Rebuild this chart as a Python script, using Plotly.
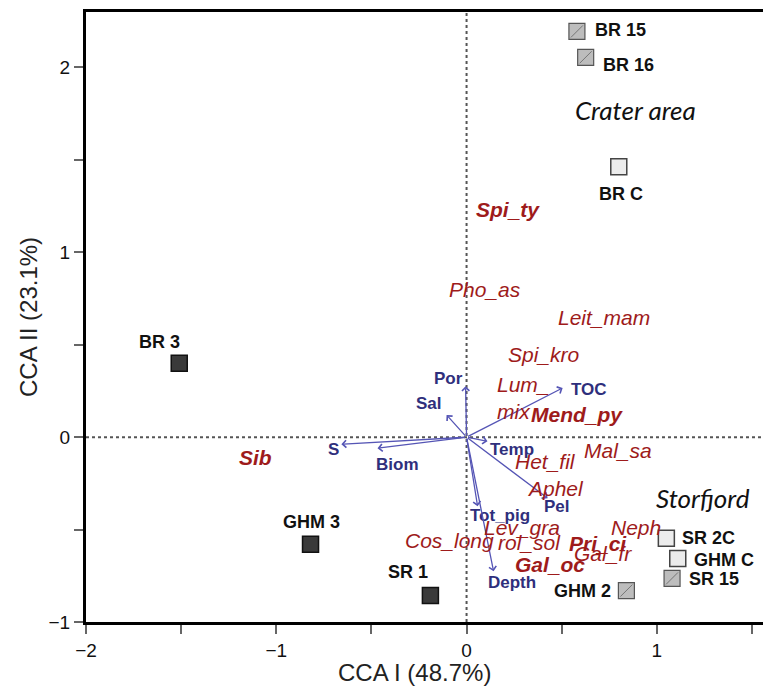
import plotly.graph_objects as go

# ---------------- data ----------------
site_names = ["BR 15", "BR 16", "BR C", "BR 3", "GHM 3", "SR 1", "GHM 2", "SR 2C", "GHM C", "SR 15"]
site_x = [0.58, 0.626, 0.80, -1.51, -0.82, -0.19, 0.84, 1.05, 1.11, 1.08]
site_y = [2.195, 2.055, 1.463, 0.40, -0.58, -0.856, -0.83, -0.547, -0.656, -0.764]
site_group = ["hatched", "hatched", "light", "dark", "dark", "dark", "hatched", "light", "light", "hatched"]

species_names = ["Spi_ty", "Pho_as", "Leit_mam", "Spi_kro", "Lum_<br>mix", "Mend_py", "Sib", "Mal_sa",
                 "Het_fil", "Aphel", "Neph", "Lev_gra", "Cos_long", "rol_sol", "Pri_ci", "Gal_fr", "Gal_oc"]
species_x = [0.22, 0.095, 0.72, 0.405, 0.147, 0.58, -1.11, 0.795,
             0.415, 0.47, 0.89, 0.29, -0.09, 0.33, 0.69, 0.715, 0.437]
species_y = [1.23, 0.80, 0.645, 0.445, 0.214, 0.12, -0.108, -0.07,
             -0.13, -0.28, -0.49, -0.49, -0.56, -0.57, -0.575, -0.63, -0.69]
species_bold = [True, False, False, False, False, True, True, False,
                False, False, False, False, False, False, True, False, True]

env_names = ["Por", "Sal", "TOC", "S", "Biom", "Temp", "Pel", "Tot_pig", "Depth"]
env_x = [-0.005, -0.105, 0.505, -0.658, -0.468, 0.11, 0.426, 0.058, 0.142]
env_y = [0.276, 0.12, 0.266, -0.038, -0.06, -0.022, -0.33, -0.374, -0.726]

region_names = ["Crater area", "Storfjord"]
region_x = [0.889, 1.24]
region_y = [1.77, -0.33]

x_ticks = [-2, -1.5, -1, -0.5, 0, 0.5, 1, 1.5]
x_ticktext = ["\u22122", "", "\u22121", "", "0", "", "1", ""]
y_ticks = [-1, -0.5, 0, 0.5, 1, 1.5, 2]
y_ticktext = ["\u22121", "", "0", "", "1", "", "2"]

# ---------------- styles ----------------
group_style = {
    "dark": dict(color="#3a3a3a", line=dict(color="#111111", width=1.5)),
    "light": dict(color="#ececec", line=dict(color="#444444", width=1.5)),
    "hatched": dict(color="#bdbdbd", line=dict(color="#555555", width=1.2)),
}
# label offsets (px) and anchor for each site
site_label_style = {
    "BR 15": (16, 1, "left"), "BR 16": (15, -8, "left"), "BR C": (2, -27, "center"),
    "BR 3": (-20, 21, "center"), "GHM 3": (1, 22, "center"), "SR 1": (-22, 23, "center"),
    "GHM 2": (-13, 0, "right"), "SR 2C": (14, 0, "left"), "GHM C": (14, -2, "left"),
    "SR 15": (15, -1, "left"),
}
env_label_style = {
    "Por": (-17, 8, "center"), "Sal": (-18, 11, "center"), "TOC": (6, -2, "left"),
    "S": (-8, -5, "center"), "Biom": (20, -16, "center"), "Temp": (25, -8, "center"),
    "Pel": (9, -8, "center"), "Tot_pig": (22, -9, "center"), "Depth": (18, -11, "center"),
}
SPECIES_COLOR = "#9e1b1b"
ENV_LABEL_COLOR = "#2f2f7c"
ARROW_COLOR = "#5555b5"
FONT = "Liberation Sans, Arial, sans-serif"

fig = go.Figure()

# site squares
for grp in ["dark", "light", "hatched"]:
    xs = [x for x, g in zip(site_x, site_group) if g == grp]
    ys = [y for y, g in zip(site_y, site_group) if g == grp]
    fig.add_trace(go.Scatter(x=xs, y=ys, mode="markers",
                             marker=dict(symbol="square", size=16, **group_style[grp]),
                             showlegend=False, hoverinfo="skip"))
# hatch hint on hatched squares
hx = [x for x, g in zip(site_x, site_group) if g == "hatched"]
hy = [y for y, g in zip(site_y, site_group) if g == "hatched"]
fig.add_trace(go.Scatter(x=hx, y=hy, mode="markers",
                         marker=dict(symbol="line-ne", size=12, line=dict(color="#777777", width=1)),
                         showlegend=False, hoverinfo="skip"))

annotations = []

# env arrows
for name, x, y in zip(env_names, env_x, env_y):
    annotations.append(dict(x=x, y=y, ax=0, ay=0, xref="x", yref="y", axref="x", ayref="y",
                            showarrow=True, arrowhead=4, arrowsize=1.1, arrowwidth=1.3,
                            arrowcolor=ARROW_COLOR, standoff=0, startstandoff=0, text=""))
    dx, dy, anc = env_label_style[name]
    annotations.append(dict(x=x, y=y, xref="x", yref="y", text="<b>%s</b>" % name, showarrow=False,
                            xanchor=anc, yanchor="middle", xshift=dx, yshift=dy,
                            font=dict(family=FONT, size=17, color=ENV_LABEL_COLOR)))

# species labels
for name, x, y, b in zip(species_names, species_x, species_y, species_bold):
    txt = "<i>%s</i>" % name
    if b:
        txt = "<b>%s</b>" % txt
    multi = "<br>" in name
    annotations.append(dict(x=x, y=y, xref="x", yref="y", text=txt, showarrow=False,
                            xanchor="left" if multi else "center", yanchor="middle",
                            align="left",
                            font=dict(family=FONT, size=21, color=SPECIES_COLOR)))

# site labels
for name, x, y in zip(site_names, site_x, site_y):
    dx, dy, anc = site_label_style[name]
    annotations.append(dict(x=x, y=y, xref="x", yref="y", text="<b>%s</b>" % name, showarrow=False,
                            xanchor=anc, yanchor="middle", xshift=dx, yshift=dy,
                            font=dict(family=FONT, size=18, color="#111111")))

# region labels
for name, x, y in zip(region_names, region_x, region_y):
    annotations.append(dict(x=x, y=y, xref="x", yref="y", text="<i>%s</i>" % name, showarrow=False,
                            xanchor="center", yanchor="middle",
                            font=dict(family="Lato, Open Sans, sans-serif", size=26, color="#111111")))

# axis titles
TITLE_FONT = "Liberation Sans, Arial, sans-serif"
annotations.append(dict(x=0.48, y=-0.0836, xref="paper", yref="paper", text="CCA I (48.7%)",
                        showarrow=False, xanchor="center", yanchor="middle",
                        font=dict(family=TITLE_FONT, size=24, color="#222222")))
annotations.append(dict(x=-0.0847, y=0.5, xref="paper", yref="paper", text="CCA II (23.1%)",
                        showarrow=False, xanchor="center", yanchor="middle", textangle=-90,
                        font=dict(family=TITLE_FONT, size=24, color="#222222")))

shapes = [
    dict(type="line", xref="x", yref="paper", x0=0, x1=0, y0=0, y1=1,
         line=dict(color="#555555", width=2, dash="dot"), layer="below"),
    dict(type="line", xref="paper", yref="y", x0=0, x1=1, y0=0, y1=0,
         line=dict(color="#555555", width=2, dash="dot"), layer="below"),
]

# the page body adds an 8px offset, so the figure is sized to fit the 771x690 window
fig.update_layout(
    width=763, height=682,
    margin=dict(l=78, r=0, t=4, b=68, autoexpand=False),
    paper_bgcolor="white", plot_bgcolor="white",
    annotations=annotations, shapes=shapes,
    showlegend=False,
    font=dict(family=FONT),
)
fig.update_xaxes(range=[-2, 1.6], tickvals=x_ticks, ticktext=x_ticktext, automargin=False,
                 showgrid=False, zeroline=False, showline=True, linewidth=3, linecolor="black",
                 mirror=True, ticks="outside", ticklen=9, tickwidth=2, tickcolor="#666666",
                 tickfont=dict(size=19, color="#111111", family=TITLE_FONT))
fig.update_yaxes(range=[-1, 2.3], tickvals=y_ticks, ticktext=y_ticktext, automargin=False,
                 showgrid=False, zeroline=False, showline=True, linewidth=3, linecolor="black",
                 mirror=False, ticks="outside", ticklen=9, tickwidth=2, tickcolor="#666666",
                 tickfont=dict(size=19, color="#111111", family=TITLE_FONT))

fig.write_html("out.html")
